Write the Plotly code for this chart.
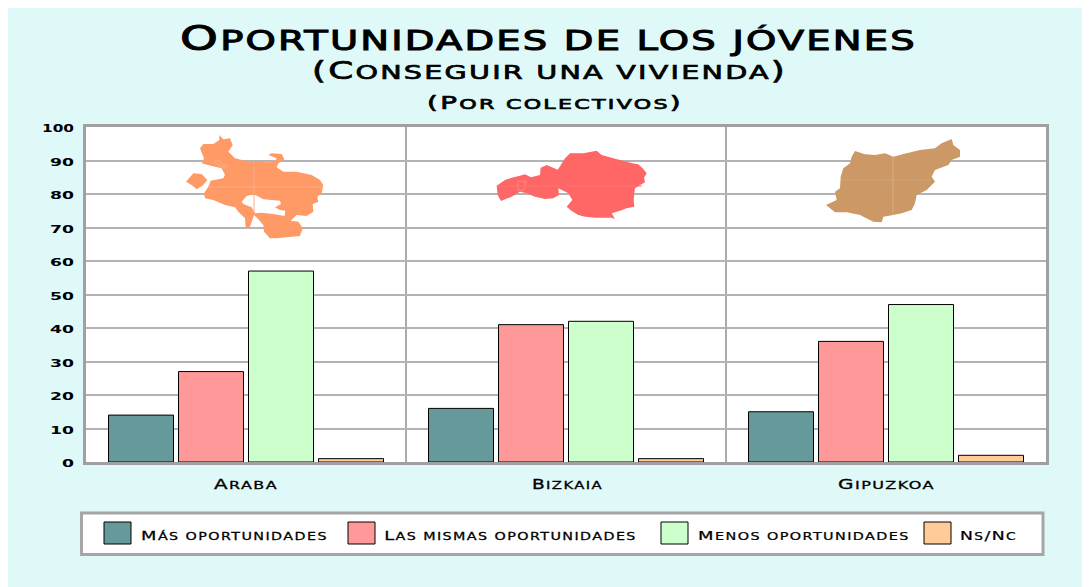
import json
import plotly.graph_objects as go

categories = ["Araba", "Bizkaia", "Gipuzkoa"]
mas = [14, 16, 15]
mismas = [27, 41, 36]
menos = [57, 42, 47]
nsnc = [1, 1, 2]
series_names = ["Más oportunidades", "Las mismas oportunidades", "Menos oportunidades", "Ns/Nc"]
series_colors = ["#669999", "#FF9999", "#CCFFCC", "#FFCC99"]
series_values = [mas, mismas, menos, nsnc]
y_ticks = list(range(0, 101, 10))
title_1 = "Oportunidades de los jóvenes"
title_2 = "(Conseguir una vivienda)"
title_3 = "(Por colectivos)"

araba_main = [(118,15),(130,28),(150,25),(158,45),(145,65),(165,85),(195,92),(222,95),(270,97),(285,95),(290,85),(265,75),(275,70),(305,72),(313,88),(295,100),(290,112),(310,125),(350,125),(395,135),(420,150),(430,165),(425,190),(412,200),(415,215),(398,222),(400,245),(380,258),(350,255),(332,272),(355,275),(368,295),(360,318),(320,322),(290,325),(270,325),(252,305),(250,285),(235,268),(222,255),(218,268),(210,290),(197,293),(195,265),(175,245),(165,232),(135,225),(100,210),(75,205),(72,190),(85,170),(92,152),(130,145),(135,135),(125,115),(95,108),(65,100),(72,85),(60,55),(70,42),(100,42),(118,30)]
araba_west = [(18,155),(40,130),(65,132),(82,150),(70,165),(50,178),(35,165)]
araba_hole = [(185,215),(200,198),(222,193),(250,208),(300,212),(303,222),(285,232),(300,240),(316,242),(314,258),(280,252),(245,248),(225,250),(215,232),(190,222)]
araba_inner = [(103,95),(118,90),(125,102),(145,108),(135,114),(115,104)]
bizkaia_main = [(5,122),(30,105),(50,98),(75,92),(90,88),(108,97),(135,90),(137,68),(155,60),(188,74),(196,62),(210,40),(225,25),(265,25),(305,17),(320,30),(355,40),(395,50),(412,55),(430,58),(445,72),(455,85),(447,98),(450,112),(432,122),(420,130),(418,145),(416,165),(418,185),(395,190),(375,197),(350,205),(360,222),(350,218),(325,218),(300,218),(270,215),(250,210),(230,198),(215,185),(232,165),(220,145),(190,130),(192,150),(175,160),(150,162),(120,155),(95,145),(75,140),(50,155),(18,168),(8,150)]
bizkaia_inner = [(68,110),(92,108),(90,125),(82,138),(70,135)]
gipuzkoa_main = [(95,65),(105,48),(135,58),(165,60),(195,55),(220,65),(260,55),(300,45),(345,40),(365,25),(395,12),(400,30),(420,45),(420,65),(395,75),(385,90),(345,105),(335,125),(345,140),(320,165),(290,180),(285,205),(275,225),(245,235),(220,240),(190,245),(185,262),(160,260),(120,240),(80,232),(45,232),(18,210),(50,195),(45,170),(60,160),(62,125),(70,100),(90,85)]

W, H = 1075, 579
ML, MT, PW, PH = 78, 119, 960, 335
FONT = "DejaVu Sans"

def px(x): return (x - 8 - ML) / PW
def py(y): return 1 - (y - 8 - MT) / PH

def poly(points, ox, oy):
    pts = [(px(ox + a / 3), py(oy + b / 3)) for a, b in points]
    return "M" + "L".join(f"{a:.5f},{b:.5f}" for a, b in pts) + "Z"

def caps(s, size, sp=1.0, ratio=0.8, heavy=0):
    """Small capitals: lower-case runs get a smaller size; font textcase makes them capitals."""
    extra = f";stroke:#000;stroke-width:{heavy}px" if heavy else ""
    out, run, low = [], "", None
    def flush():
        if run:
            fs = size * ratio if low else size
            out.append(f'<span style="font-size:{fs:.1f}px;letter-spacing:{sp}px{extra}">{run}</span>')
    for ch in s:
        is_low = ch.islower() or (ch == " " and low)
        if low is None or is_low == low:
            run += ch
        else:
            flush()
            run = ch
        low = is_low
    flush()
    return "".join(out)

fig = go.Figure()
for name, vals, col in zip(series_names, series_values, series_colors):
    fig.add_bar(x=categories, y=vals, name=name, marker=dict(color=col, line=dict(color="#000", width=1)), showlegend=False)

shapes = []
def path_shape(p, col):
    shapes.append(dict(type="path", path=p, xref="paper", yref="paper", fillcolor=col, line=dict(width=0), layer="above"))
def inner_line(p, col):
    shapes.append(dict(type="path", path=p, xref="paper", yref="paper", line=dict(color=col, width=1), layer="above"))
def seam(x0, y0, x1, y1, col):
    shapes.append(dict(type="line", xref="paper", yref="paper", x0=px(x0), y0=py(y0), x1=px(x1), y1=py(y1), line=dict(color=col, width=1), layer="above"))

path_shape(poly(araba_main, 180, 130) + poly(araba_hole, 180, 130) + poly(araba_west, 180, 130), "#FF9966")
path_shape(poly(bizkaia_main, 495, 145), "#FF6666")
path_shape(poly(gipuzkoa_main, 820, 135), "#CC9966")
inner_line(poly(araba_inner, 180, 130), "#FFAD85")
inner_line(poly(bizkaia_inner, 495, 145), "#FF8A8A")
seam(254, 162, 254, 213, "#FFAD85")
seam(208, 187, 323, 187, "#FFAD85")
seam(497, 186, 642, 186, "#FF7070")
seam(893, 157, 893, 215, "#D9AE82")
seam(841, 180, 931, 180, "#D3A273")

# legend box
shapes.append(dict(type="rect", xref="paper", yref="paper", x0=px(81.5), x1=px(1043), y0=py(513), y1=py(554.5), fillcolor="#fff", line=dict(color="#A6A6A6", width=3), layer="above"))
swatch_x = [104, 348, 661, 924]
label_x = [141, 384, 698, 960]
annotations = []
for sx, lx, name, col in zip(swatch_x, label_x, series_names, series_colors):
    shapes.append(dict(type="rect", xref="paper", yref="paper", x0=px(sx), x1=px(sx + 27), y0=py(522), y1=py(544), fillcolor=col, line=dict(color="#000", width=1), layer="above"))
    annotations.append(dict(text=caps(name, 12.5, 1, heavy=0.25), x=px(lx), y=py(535.5), xref="paper", yref="paper", xanchor="left", yanchor="middle", showarrow=False,
                            font=dict(family=FONT, size=13, color="#000", textcase="upper")))
annotations.append(dict(text=caps(title_2, 24, 1.5, heavy=0.7), x=px(549.5), y=py(71), xref="paper", yref="paper", xanchor="center", yanchor="middle", showarrow=False,
                        font=dict(family=FONT, size=24, color="#000", textcase="upper")))
annotations.append(dict(text=caps(title_3, 18, 1.5, heavy=0.7), x=px(555), y=py(103), xref="paper", yref="paper", xanchor="center", yanchor="middle", showarrow=False,
                        font=dict(family=FONT, size=18, color="#000", textcase="upper")))

fig.update_layout(
    width=W, height=H, margin=dict(l=ML, r=W - ML - PW, t=MT, b=H - MT - PH),
    paper_bgcolor="#DFF9F9", plot_bgcolor="#fff", barmode="group", bargap=0.125, bargroupgap=0.0714,
    title=dict(text=caps(title_1, 33, 1.5, heavy=1), x=(549 - 8) / W, y=1 - (38 - 8) / H, xanchor="center", yanchor="middle",
               font=dict(family=FONT, size=33, color="#000", textcase="upper")),
    font=dict(family=FONT, color="#000"),
    shapes=shapes, annotations=annotations,
    xaxis=dict(showline=True, mirror=True, linecolor="#A0A0A0", linewidth=3, tickson="boundaries", showgrid=True, gridcolor="#ABABAB", gridwidth=2,
               ticks="", ticklabelstandoff=8, tickvals=categories, ticktext=[caps(c, 13.5, 1, heavy=0.3) for c in categories],
               tickfont=dict(size=13, family=FONT, textcase="upper")),
    yaxis=dict(range=[0, 100], tickvals=y_ticks, showline=True, mirror=True, linecolor="#A0A0A0", linewidth=3, showgrid=True, gridcolor="#B3B3B3", gridwidth=2,
               zeroline=False, ticks="", ticklabelstandoff=12, tickfont=dict(size=10.5, family=FONT, weight=700)),
)

# The reference face is a very wide engraver's capital; no installed font is that wide, so the
# real text elements are stretched horizontally to the extents read from the reference.
# Third value: small downward nudge.
text_extent = {title_1: (180, 917, 0), title_2: (312, 787, 0), title_3: (427, 683, 0),
               series_names[0]: (141, 328, 0), series_names[1]: (384, 637, 0), series_names[2]: (698, 910, 0), series_names[3]: (960, 1017, 0),
               categories[0]: (214, 278, 0), categories[1]: (532, 603, 0), categories[2]: (838, 935, 0),
               "100": (42, 74, 1.5), "0": (62, 74, 1.5)}
for v in y_ticks[1:-1]:
    text_extent[str(v)] = (50, 74, 1.5)
post = """
var F = %s;
document.querySelectorAll('svg text').forEach(function(el){
  var t = F[el.textContent]; if(!t) return;
  var r = el.getBoundingClientRect(), b = el.getBBox(), k = (t[1]-t[0])/r.width;
  var old = el.getAttribute('transform') || '';
  el.setAttribute('transform', old + ' translate(' + (b.x + t[0] - r.left) + ',' + t[2] + ') scale(' + k + ',1) translate(' + (-b.x) + ',0)');
});
""" % json.dumps(text_extent, ensure_ascii=False)
fig.write_html("out.html", post_script=post)
